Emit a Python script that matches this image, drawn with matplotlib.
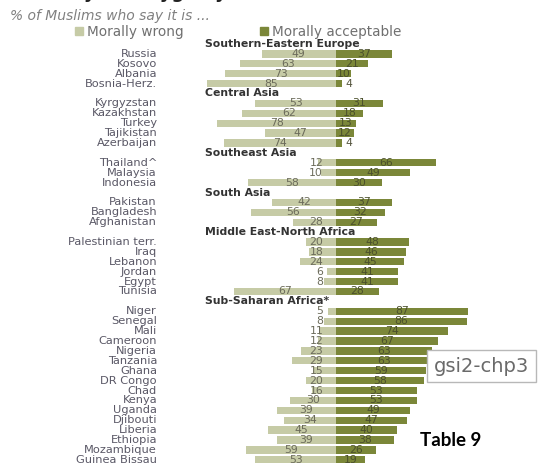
import matplotlib.pyplot as plt
from matplotlib.patches import Patch

# data
regions = ["Southern-Eastern Europe", "Central Asia", "Southeast Asia",
           "South Asia", "Middle East-North Africa", "Sub-Saharan Africa*"]
countries = [
    ["Russia", "Kosovo", "Albania", "Bosnia-Herz."],
    ["Kyrgyzstan", "Kazakhstan", "Turkey", "Tajikistan", "Azerbaijan"],
    ["Thailand^", "Malaysia", "Indonesia"],
    ["Pakistan", "Bangladesh", "Afghanistan"],
    ["Palestinian terr.", "Iraq", "Lebanon", "Jordan", "Egypt", "Tunisia"],
    ["Niger", "Senegal", "Mali", "Cameroon", "Nigeria", "Tanzania", "Ghana",
     "DR Congo", "Chad", "Kenya", "Uganda", "Djibouti", "Liberia", "Ethiopia",
     "Mozambique", "Guinea Bissau"],
]
wrong = [[49, 63, 73, 85], [53, 62, 78, 47, 74], [12, 10, 58], [42, 56, 28],
         [20, 18, 24, 6, 8, 67],
         [5, 8, 11, 12, 23, 29, 15, 20, 16, 30, 39, 34, 45, 39, 59, 53]]
acceptable = [[37, 21, 10, 4], [31, 18, 13, 12, 4], [66, 49, 30], [37, 32, 27],
              [48, 46, 45, 41, 41, 28],
              [87, 86, 74, 67, 63, 63, 59, 58, 53, 53, 49, 47, 40, 38, 26, 19]]

LIGHT = '#c6cba6'
DARK = '#7b8739'
W, H = 542, 466
CX = 336        # px of the zero line
PX = 1.52       # px per percent
ROW = 9.9       # px per row
TOP = 44.0      # px of first row

fig = plt.figure(figsize=(W / 100, H / 100), dpi=100)
ax = fig.add_axes([0, 0, 1, 1])
ax.set_xlim(-CX / PX, (W - CX) / PX)
ax.set_ylim((H - TOP) / ROW, -TOP / ROW)
ax.axis('off')

def xu(px):
    return (px - CX) / PX

slot = 0
ys, ws, accs = [], [], []
for reg, names, wr, ac in zip(regions, countries, wrong, acceptable):
    ax.text(xu(205), slot, reg, ha='left', va='center', fontsize=7.8,
            fontweight='bold', color='#333333')
    slot += 1
    for n, w, a in zip(names, wr, ac):
        ax.text(xu(157), slot, n, ha='right', va='center', fontsize=8.2,
                color='#5a5866')
        ys.append(slot)
        ws.append(w)
        accs.append(a)
        slot += 1

ax.barh(ys, [-w for w in ws], height=0.73, color=LIGHT, linewidth=0)
ax.barh(ys, accs, height=0.73, color=DARK, linewidth=0)

for y, w, a in zip(ys, ws, accs):
    if w < 30:
        ax.text(-8.5, y, str(w), ha='right', va='center', fontsize=7.8,
                color='#6b6b5a')
    else:
        ax.text(-w / 2, y, str(w), ha='center', va='center', fontsize=7.8,
                color='#6b6b5a')
    if a < 8:
        ax.text(a + 2.5, y, str(a), ha='left', va='center', fontsize=7.8,
                color='#55553f')
    else:
        ax.text(a / 2, y, str(a), ha='center', va='center', fontsize=7.8,
                color='#4b502c')

# cut-off title, subtitle, legend
fig.text(12 / W, 1 + 1.5 / H, "Morality of Polygamy", ha='left', va='baseline',
         fontsize=13, fontweight='bold', color='#222222')
fig.text(10 / W, 1 - 15.6 / H, "% of Muslims who say it is ...", ha='left',
         va='center', fontsize=10, style='italic', color='#808080')
handles = [Patch(color=LIGHT, label='Morally wrong'),
           Patch(color=DARK, label='Morally acceptable')]
fig.legend(handles=handles, loc='center left', bbox_to_anchor=(68 / W, 1 - 31.8 / H),
           ncol=2, frameon=False, fontsize=9.8, handlelength=0.6, handleheight=0.6,
           handletextpad=0.3, columnspacing=5.6, borderpad=0, labelcolor='#707070')

fig.text(420 / W, 1 - 441 / H, "Table 9", ha='left', va='center', fontsize=13.5,
         fontweight='bold', family='Lato', color='black')
fig.text(434 / W, 1 - 366 / H, "gsi2-chp3", ha='left', va='center', fontsize=14,
         color='#6a6a6a',
         bbox=dict(boxstyle='square,pad=0.34', fc='white', ec='#b8b8b8', lw=1))

fig.savefig('out.png', dpi=100)
